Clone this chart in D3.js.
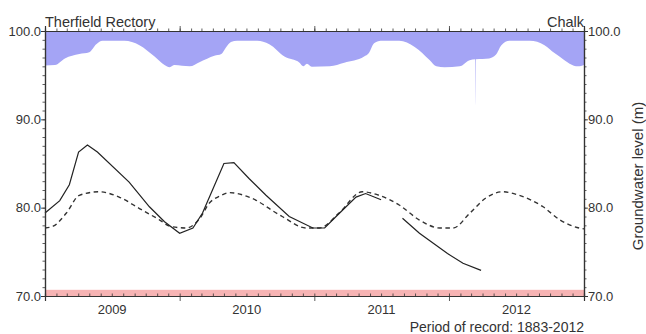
<!DOCTYPE html>
<html><head><meta charset="utf-8">
<script src="https://cdn.jsdelivr.net/npm/d3@7"></script>
<style>body{margin:0;background:#fff}svg{display:block}text{font-family:"Liberation Sans",Arial,sans-serif}</style>
</head><body><svg id="c" width="646" height="334"></svg>
<script>
// ---- data ----
const yearLabels = ["2009","2010","2011","2012"];
const yTicks = [70, 80, 90, 100];
const observedDates = ["2009-01-01","2009-02-10","2009-03-08","2009-04-02","2009-04-26","2009-05-23","2009-08-17","2009-10-11","2009-11-21","2010-01-01","2010-02-06","2010-03-04","2010-04-02","2010-05-01","2010-05-28","2010-07-08","2010-08-23","2010-10-25","2010-12-28","2011-01-29","2011-03-01","2011-04-24","2011-05-20","2011-07-01","2011-07-20","2011-08-28","2011-10-13","2011-12-28","2012-02-08","2012-03-28"];
const observedLevels = [79.4,80.8,82.6,86.3,87.1,86.3,82.9,80.1,78.4,77.1,77.7,79.4,82.2,85.0,85.1,83.3,81.4,79.0,77.7,77.7,79.0,81.2,81.6,80.9,null,78.8,77.1,74.8,73.7,72.9];
const averageDates = ["2009-01-01","2009-01-23","2009-02-28","2009-04-04","2009-05-28","2009-07-21","2009-09-14","2009-11-08","2009-12-05","2010-01-19","2010-02-25","2010-03-22","2010-04-19","2010-05-16","2010-07-08","2010-10-06","2010-12-10","2011-01-15","2011-03-09","2011-05-11","2011-06-25","2011-08-19","2011-10-13","2011-12-07","2012-01-12","2012-02-27","2012-04-10","2012-05-25","2012-07-09","2012-09-12","2012-10-28","2012-12-19","2013-01-01"];
const averageLevels = [77.7,77.9,79.4,81.4,81.8,81.2,79.9,78.6,77.9,77.7,78.8,80.5,81.3,81.7,81.2,79.0,77.7,77.7,79.4,81.8,81.4,80.3,78.6,77.7,77.7,79.4,81.1,81.8,81.4,80.1,78.6,77.7,77.6];
const maxDates = ["2009-01-01","2009-01-28","2009-02-24","2009-04-04","2009-05-01","2009-05-20","2009-06-06","2009-08-04","2009-09-14","2009-10-25","2009-11-21","2009-12-05","2009-12-18","2010-01-28","2010-02-25","2010-04-05","2010-04-24","2010-05-06","2010-05-20","2010-06-06","2010-07-30","2010-09-01","2010-10-12","2010-11-22","2010-12-02","2010-12-12","2010-12-25","2011-02-12","2011-03-23","2011-05-16","2011-05-29","2011-06-12","2011-06-30","2011-08-19","2011-09-30","2011-11-10","2011-11-28","2011-12-20","2012-01-30","2012-02-26","2012-03-12","2012-03-13","2012-03-14","2012-04-19","2012-05-07","2012-05-22","2012-06-13","2012-08-07","2012-09-16","2012-10-13","2012-11-09","2012-11-23","2012-12-16","2013-01-01"];
const maxLevels = [96.1,96.15,96.9,97.4,97.6,98.5,98.9,98.9,98.4,97.1,96.15,95.9,96.15,96.0,96.5,97.2,97.4,98.1,98.75,98.9,98.9,98.5,97.1,96.4,96.0,96.3,95.95,96.0,96.4,97.1,97.5,98.6,98.9,98.9,98.2,96.7,96.0,95.9,96.0,96.7,96.8,91.6,96.8,96.9,97.3,98.4,98.9,98.9,98.4,97.5,96.7,96.3,96.0,96.15];
const lowBand = [70.0, 70.7];
const title = "Therfield Rectory", aquifer = "Chalk", record = "Period of record: 1883-2012", yLabel = "Groundwater level (m)";

// ---- chart ----
const parse = d3.timeParse("%Y-%m-%d");
const M = {l:45, r:584, t:31, b:296};
const svg = d3.select("#c");
const x = d3.scaleTime().domain([parse("2009-01-01"), parse("2013-01-01")]).range([M.l, M.r]);
const y = d3.scaleLinear().domain([70, 100]).range([M.b, M.t]);
const axisCol = "#333";
const txtCol = "#333";

// blue area (between 100 and max level)
const maxData = maxDates.map((d,i)=>({d:parse(d), v:maxLevels[i]}));
svg.append("path").datum(maxData)
  .attr("d", d3.area().x(p=>x(p.d)).y0(y(100)).y1(p=>y(p.v)).curve(d3.curveMonotoneX))
  .attr("fill", "#a4a4f5");

// pink low band
svg.append("rect").attr("x", M.l).attr("width", M.r-M.l)
  .attr("y", y(lowBand[1])).attr("height", y(lowBand[0])-y(lowBand[1]))
  .attr("fill", "#f7b4b4");

// average dashed
const avgData = averageDates.map((d,i)=>({d:parse(d), v:averageLevels[i]}));
svg.append("path").datum(avgData)
  .attr("d", d3.line().x(p=>x(p.d)).y(p=>y(p.v)).curve(d3.curveMonotoneX))
  .attr("fill","none").attr("stroke","#333").attr("stroke-width",1.4).attr("stroke-dasharray","4.5,3.5");

// observed solid
const obsData = observedDates.map((d,i)=>({d:parse(d), v:observedLevels[i]}));
svg.append("path").datum(obsData)
  .attr("d", d3.line().defined(p=>p.v!==null).x(p=>x(p.d)).y(p=>y(p.v)))
  .attr("fill","none").attr("stroke","#222").attr("stroke-width",1.2);

// axes
function fmt(v){return d3.format(".1f")(v);}
const gB = svg.append("g").attr("transform",`translate(0,${M.b})`)
  .call(d3.axisBottom(x).ticks(d3.timeYear.every(1)).tickSize(5).tickFormat(""));
const gBm = svg.append("g").attr("transform",`translate(0,${M.b})`)
  .call(d3.axisTop(x).ticks(d3.timeMonth.every(1)).tickSize(2.5).tickFormat(""));
const gT = svg.append("g").attr("transform",`translate(0,${M.t})`)
  .call(d3.axisTop(x).ticks(d3.timeYear.every(1)).tickSize(5).tickFormat(""));
const gTm = svg.append("g").attr("transform",`translate(0,${M.t})`)
  .call(d3.axisTop(x).ticks(d3.timeMonth.every(1)).tickSize(2.5).tickFormat(""));
const gL = svg.append("g").attr("transform",`translate(${M.l},0)`)
  .call(d3.axisLeft(y).tickValues(yTicks).tickSize(4).tickPadding(0).tickFormat(fmt));
const gLm = svg.append("g").attr("transform",`translate(${M.l},0)`)
  .call(d3.axisLeft(y).tickValues(d3.range(70,101,1)).tickSize(2.5).tickFormat(""));
const gR = svg.append("g").attr("transform",`translate(${M.r},0)`)
  .call(d3.axisRight(y).tickValues(yTicks).tickSize(4).tickPadding(0).tickFormat(fmt));
const gRm = svg.append("g").attr("transform",`translate(${M.r},0)`)
  .call(d3.axisRight(y).tickValues(d3.range(70,101,1)).tickSize(2.5).tickFormat(""));
[gB,gBm,gT,gTm,gL,gLm,gR,gRm].forEach(g=>{
  g.selectAll("path.domain").attr("stroke",axisCol).attr("stroke-width",1.2);
  g.selectAll("line").attr("stroke",axisCol).attr("stroke-width",0.8);
  g.selectAll("text").attr("fill",txtCol).style("font-size","13px").style("font-family","'Liberation Sans',Arial,sans-serif");
});

// year labels centered in each year
svg.append("g").selectAll("text").data(yearLabels).join("text")
  .attr("x", d=>x(new Date(+d,6,2)))
  .attr("y", 314).attr("text-anchor","middle")
  .attr("fill",txtCol).style("font-size","13px").text(d=>d);

svg.append("text").attr("x", M.l).attr("y", 27).attr("fill",txtCol).style("font-size","14.5px").text(title);
svg.append("text").attr("x", M.r).attr("y", 27).attr("text-anchor","end").attr("fill",txtCol).style("font-size","14.5px").text(aquifer);
svg.append("text").attr("x", M.r).attr("y", 332).attr("text-anchor","end").attr("fill",txtCol).style("font-size","14px").text(record);
svg.append("text").attr("transform",`translate(643,176) rotate(-90)`).attr("text-anchor","middle")
  .attr("fill",txtCol).style("font-size","15px").text(yLabel);
</script></body></html>
